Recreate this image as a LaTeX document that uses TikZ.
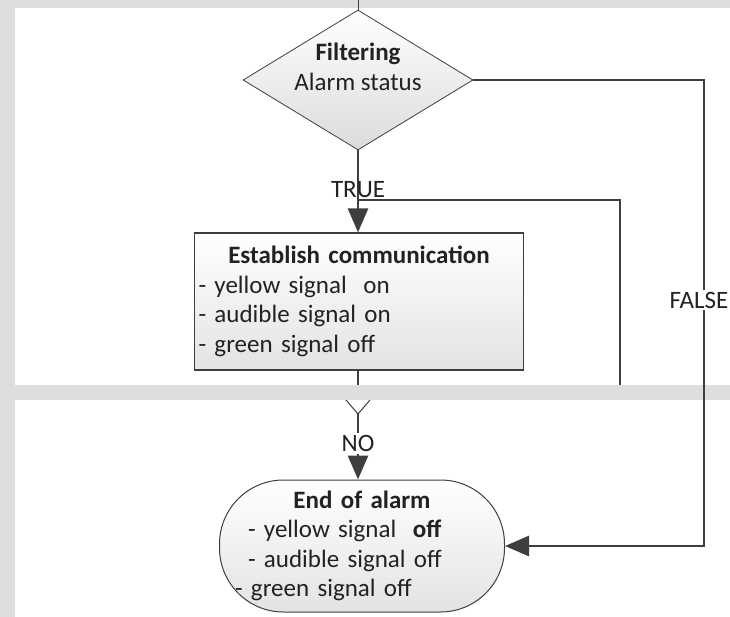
\documentclass[tikz,border=0pt]{standalone}
\usepackage{fontspec}
\setmainfont{Carlito}
\usetikzlibrary{arrows.meta, shapes.geometric}
\definecolor{linegray}{HTML}{3E3E3E}
\definecolor{txtgray}{HTML}{222222}
\definecolor{bggray}{HTML}{DEDEDE}
\tikzset{decision/.style={diamond,draw=linegray,line width=0.8pt,top color=white,bottom color=gray!28,minimum width=230pt,minimum height=140pt,inner sep=0pt,align=center,text=txtgray},
procbox/.style={rectangle,draw=linegray,line width=1.2pt,top color=white,bottom color=gray!22,minimum width=329pt,minimum height=137pt,text width=321pt,inner sep=4pt,align=left,text=txtgray},
endbox/.style={rectangle,rounded corners=64pt,draw=linegray,line width=1pt,top color=white,bottom color=gray!22,minimum width=285pt,minimum height=132pt,text width=228pt,inner sep=0pt,align=left,text=txtgray},
line/.style={draw=linegray,line width=2.8pt},
arrow/.style={line,-{Triangle[length=24pt,width=20pt]}},
lbl/.style={fill=white,inner sep=2pt,text=txtgray}}

\begin{document}
\begin{tikzpicture}[x=1pt,y=-1pt,font=\fontsize{25}{29.5}\selectfont]
\useasboundingbox (0,0) rectangle (730,617);
% background panels
\fill[bggray] (0,0) rectangle (730,617);
\fill[white] (15,8) rectangle (730,385);
\fill[white] (15,400) rectangle (730,617);

\node[decision] (dec) at (358,80) {\raisebox{4pt}[0pt][0pt]{\begin{tabular}{c}\textbf{Filtering}\\Alarm status\end{tabular}}};
\node[procbox] (proc) at (359,301.5) {\makebox[\linewidth]{\textbf{Establish communication}}\\- yellow signal\ \ on\\- audible signal on\\- green signal off};
\node[endbox] (end) at (362,546) {\makebox[\linewidth]{\textbf{End of alarm}}\\- yellow signal\ \ \textbf{off}\\- audible signal off\\\hspace*{-13pt}- green signal off};

\coordinate (top) at (358,0);
\coordinate (merge) at (358,200);
\coordinate (loopin) at (620,385);
\coordinate (cut) at (358,385);
\coordinate (yl) at (346,400);
\coordinate (yr) at (370,400);
\coordinate (ytip) at (358,414);
\coordinate (fx) at (704,300);

\draw[line,line width=1pt] (top) -- (dec.north);
\draw[arrow] (dec.south) -- node[pos=0.48,text=txtgray]{TRUE} (dec.south |- proc.north);
\draw[line] (loopin) |- (merge);
\draw[line] (cut |- proc.south) -- (cut);
\draw[line,line width=1pt] (yl) -- (ytip) -- (yr);
\draw[arrow] (ytip) -- node[pos=0.45,lbl]{NO} (ytip |- end.north);
\draw[arrow] (dec.east) -| (fx) node[lbl,xshift=-5pt]{FALSE} |- (end.east);
\end{tikzpicture}
\end{document}
